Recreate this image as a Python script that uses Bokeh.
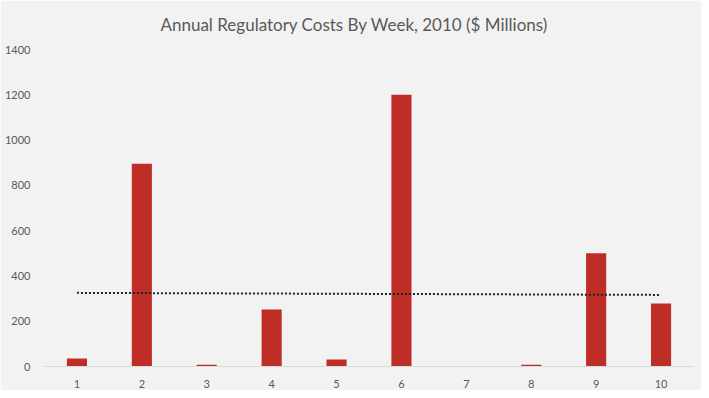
import numpy as np
from bokeh.plotting import figure
from bokeh.models import FactorRange, Range1d, ColumnDataSource, FixedTicker
from bokeh.embed import file_html
from bokeh.resources import INLINE

weeks = ["1", "2", "3", "4", "5", "6", "7", "8", "9", "10"]
costs = [35, 895, 8, 252, 31, 1200, 0, 8, 500, 278]
y_ticks = [0, 200, 400, 600, 800, 1000, 1200, 1400]
title_text = "Annual Regulatory Costs By Week, 2010 ($ Millions)"

# linear trendline (least squares) as in the original
xs = np.arange(1, len(costs) + 1)
slope, intercept = np.polyfit(xs, costs, 1)
trend = list(slope * xs + intercept)

FONT = "Lato"
TXT = "#595959"
BG = "#f2f2f2"

p = figure(width=701, height=390, output_backend="svg", toolbar_location=None,
           x_range=FactorRange(*weeks, range_padding=0), y_range=Range1d(0, 1400),
           title=title_text)
p.min_border_left = 44
p.min_border_right = 8
p.min_border_top = 49
p.min_border_bottom = 24
p.background_fill_color = BG
p.border_fill_color = BG
p.outline_line_color = None

p.title.align = "left"
p.title.text_font = FONT
p.title.text_font_size = "17px"
p.title.text_font_style = "normal"
p.title.text_color = TXT
p.title.offset = 116
p.title.standoff = 26
p.title.vertical_align = "top"

src = ColumnDataSource(dict(x=weeks, y=costs))
p.vbar(x="x", top="y", width=0.31, source=src, fill_color="#BE2E27", line_color=None)
p.line(x=weeks, y=trend, line_color="#1a1f33", line_width=2, line_dash="2 2")

p.xgrid.grid_line_color = None
p.ygrid.grid_line_color = None

p.yaxis.ticker = FixedTicker(ticks=y_ticks)
p.yaxis.axis_line_color = None
p.yaxis.major_tick_line_color = None
p.yaxis.minor_tick_line_color = None
p.yaxis.major_label_text_font = FONT
p.yaxis.major_label_text_font_size = "11px"
p.yaxis.major_label_text_color = TXT
p.yaxis.major_label_standoff = 8

p.xaxis.axis_line_color = "#d9d9d9"
p.xaxis.axis_line_width = 1
p.xaxis.major_tick_line_color = None
p.xaxis.minor_tick_line_color = None
p.xaxis.major_label_text_font = FONT
p.xaxis.major_label_text_font_size = "11px"
p.xaxis.major_label_text_color = TXT
p.xaxis.major_label_standoff = 7

open("out.html", "w").write(file_html(p, INLINE))
